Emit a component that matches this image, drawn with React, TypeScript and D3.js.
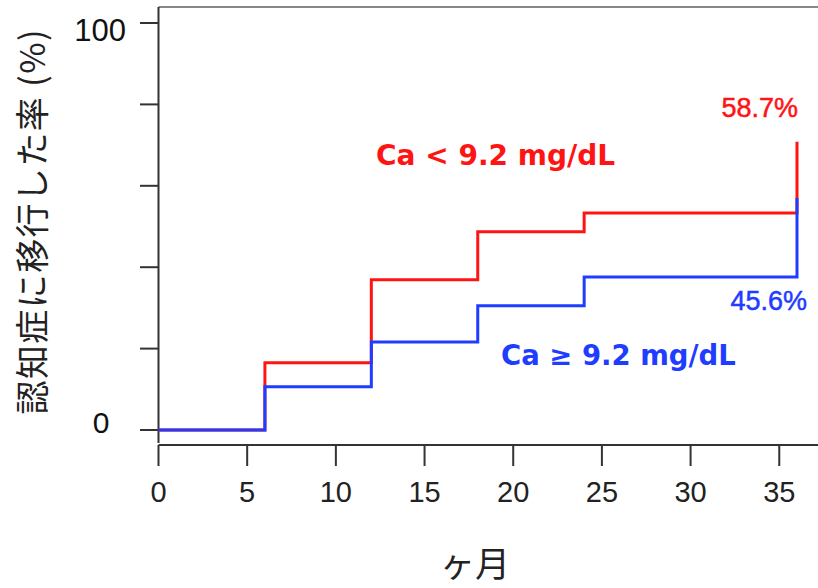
import React from 'react';
import * as d3 from 'd3';

// months at which the curves step
const months = [0, 6, 12, 18, 24, 36];
// cumulative rate (%) of conversion to dementia
const lowCa = [0, 16.5, 36.9, 48.7, 53.3, 70.8];
const highCa = [0, 10.6, 21.6, 30.5, 37.6, 57.0];
const xTicks = [0, 5, 10, 15, 20, 25, 30, 35];
const yTicks = [0, 20, 40, 60, 80, 100];
const yLabels = ['0', '100'];

const W = 818;
const H = 588;
const RED = '#ff1414';
const BLUE = '#1f3dff';
const FONT = '"Liberation Sans", Arial, sans-serif';
const WIDE = '"DejaVu Sans", sans-serif';
const JP = '"Noto Sans CJK JP", sans-serif';

export default function App() {
  const x = d3.scaleLinear().domain([0, 36]).range([158.5, 797]);
  const y = d3.scaleLinear().domain([0, 100]).range([430, 23]);

  const line = d3
    .line<number>()
    .x((d, i) => x(months[i]))
    .y((d) => y(d))
    .curve(d3.curveStepAfter);

  const axisY = 445;

  return (
    <svg width={W} height={H} style={{ position: 'absolute', left: 0, top: 0, background: '#fff' }}>
      {/* frame */}
      <line x1={158.5} x2={W} y1={7} y2={7} stroke="#888" strokeWidth={2} />
      <line x1={158.5} x2={158.5} y1={7} y2={443} stroke="#333" strokeWidth={2} />
      <line x1={158.5} x2={W} y1={axisY} y2={axisY} stroke="#333" strokeWidth={2} />

      {/* y ticks */}
      {yTicks.map((t) => (
        <line key={t} x1={140} x2={158.5} y1={y(t)} y2={y(t)} stroke="#333" strokeWidth={2} />
      ))}
      <text x={126} y={y(100) + 18} textAnchor="end" fontFamily={FONT} fontSize={31} fill="#111">
        {yLabels[1]}
      </text>
      <text x={101} y={y(0) + 3} textAnchor="middle" fontFamily={FONT} fontSize={30} fill="#111">
        {yLabels[0]}
      </text>

      {/* x ticks */}
      {xTicks.map((t) => (
        <g key={t}>
          <line x1={x(t)} x2={x(t)} y1={axisY} y2={466} stroke="#333" strokeWidth={2} />
          <text x={x(t)} y={502} textAnchor="middle" fontFamily={FONT} fontSize={29} fill="#222">
            {t}
          </text>
        </g>
      ))}

      {/* curves */}
      <path d={line(lowCa) || ''} fill="none" stroke={RED} strokeWidth={3} />
      <path d={line(highCa) || ''} fill="none" stroke={BLUE} strokeWidth={3} />

      {/* labels */}
      <text x={376} y={165} fontFamily={WIDE} fontWeight="bold" fontSize={28} fill={RED}>
        Ca &lt; 9.2 mg/dL
      </text>
      <text x={501} y={365} fontFamily={WIDE} fontWeight="bold" fontSize={27.5} fill={BLUE}>
        Ca ≥ 9.2 mg/dL
      </text>
      <text x={798} y={117} textAnchor="end" fontFamily={FONT} fontSize={27} fill={RED} stroke={RED} strokeWidth={0.5}>
        58.7%
      </text>
      <text x={807} y={310} textAnchor="end" fontFamily={FONT} fontSize={27} fill={BLUE} stroke={BLUE} strokeWidth={0.5}>
        45.6%
      </text>

      {/* axis titles */}
      <text
        transform="translate(45,222) rotate(-90)"
        textAnchor="middle"
        fontFamily={JP}
        fontSize={34}
        fill="#222"
        textLength={385}
        lengthAdjust="spacing"
      >
        認知症に移行した率 (%)
      </text>
      <text x={475} y={577} textAnchor="middle" fontFamily={JP} fontSize={35} fill="#222">
        ヶ月
      </text>
    </svg>
  );
}
